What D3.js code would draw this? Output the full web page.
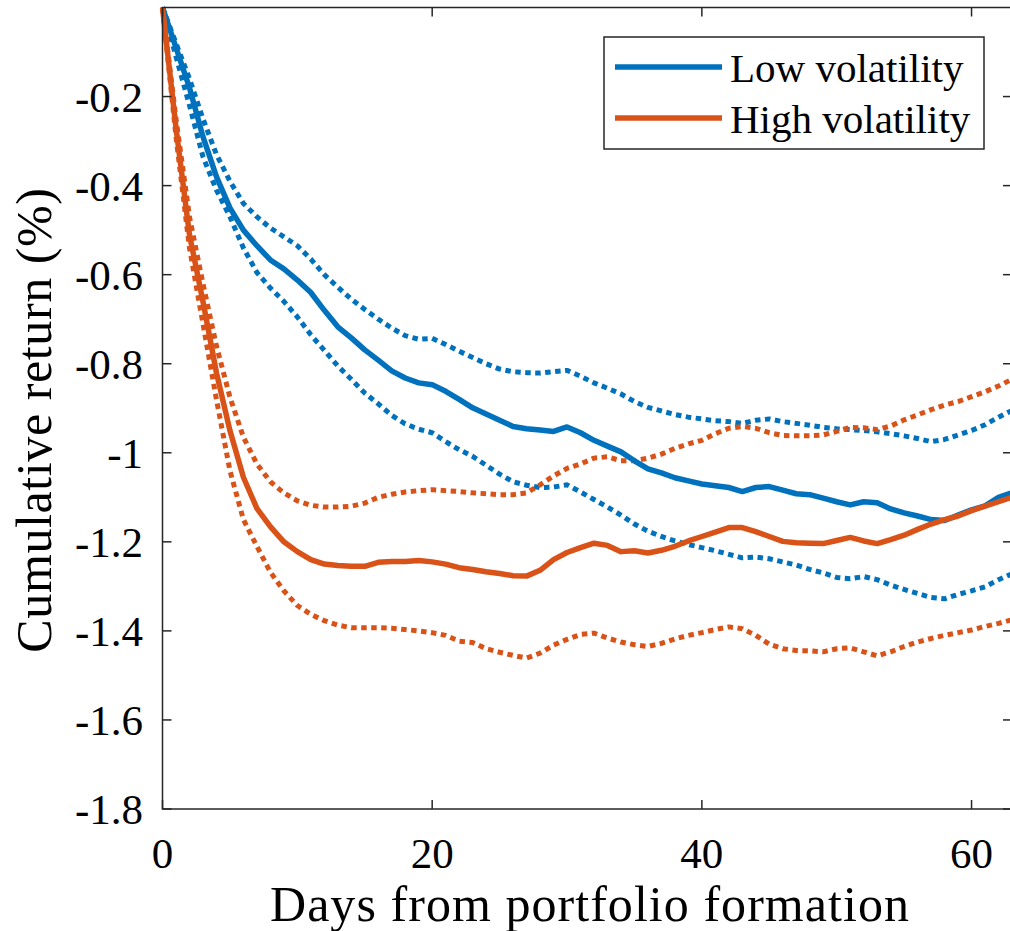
<!DOCTYPE html>
<html>
<head>
<meta charset="utf-8">
<script src="https://cdn.jsdelivr.net/npm/d3@7"></script>
<style>
  html, body { margin: 0; padding: 0; background: #fff; }
  svg { display: block; }
  text { font-family: "Liberation Serif", "Times New Roman", serif; fill: #000; }
</style>
</head>
<body>
<svg id="chart" width="1010" height="931"></svg>
<script>
// Cumulative return (%) by day since portfolio formation, with confidence bands
const days = d3.range(0, 64);

const lowMean = [0, -0.09, -0.18, -0.29, -0.38, -0.45, -0.50, -0.535, -0.567, -0.587,
  -0.612, -0.64, -0.68, -0.717, -0.742, -0.769, -0.792, -0.816, -0.832, -0.843,
  -0.847, -0.862, -0.88, -0.899, -0.913, -0.927, -0.941, -0.946, -0.949, -0.952,
  -0.942, -0.955, -0.972, -0.985, -0.998, -1.018, -1.036, -1.045, -1.056, -1.063,
  -1.07, -1.074, -1.078, -1.087, -1.078, -1.076, -1.084, -1.092, -1.094, -1.102,
  -1.11, -1.117, -1.11, -1.112, -1.126, -1.135, -1.142, -1.15, -1.152, -1.14,
  -1.128, -1.119, -1.1, -1.09];

const lowUpper = [0, -0.08, -0.16, -0.25, -0.33, -0.39, -0.44, -0.47, -0.495, -0.515,
  -0.535, -0.565, -0.60, -0.628, -0.655, -0.678, -0.70, -0.72, -0.737, -0.745,
  -0.743, -0.757, -0.772, -0.786, -0.80, -0.812, -0.818, -0.82, -0.821, -0.818,
  -0.815, -0.828, -0.843, -0.855, -0.868, -0.885, -0.898, -0.906, -0.914, -0.92,
  -0.924, -0.928, -0.93, -0.934, -0.927, -0.924, -0.93, -0.934, -0.938, -0.943,
  -0.946, -0.948, -0.95, -0.953, -0.957, -0.962, -0.968, -0.975, -0.97, -0.96,
  -0.95, -0.937, -0.92, -0.905];

const lowLower = [0, -0.11, -0.22, -0.335, -0.41, -0.47, -0.54, -0.595, -0.63, -0.66,
  -0.695, -0.735, -0.77, -0.805, -0.835, -0.866, -0.89, -0.916, -0.935, -0.947,
  -0.955, -0.975, -0.993, -1.008, -1.028, -1.048, -1.065, -1.073, -1.078, -1.077,
  -1.072, -1.088, -1.105, -1.122, -1.14, -1.16, -1.176, -1.188, -1.198, -1.206,
  -1.213, -1.22, -1.228, -1.236, -1.234, -1.238, -1.245, -1.252, -1.262, -1.27,
  -1.28, -1.283, -1.278, -1.285, -1.297, -1.307, -1.316, -1.325, -1.328, -1.318,
  -1.31, -1.301, -1.285, -1.272];

const highMean = [0, -0.27, -0.51, -0.66, -0.82, -0.95, -1.055, -1.125, -1.166, -1.2,
  -1.222, -1.24, -1.25, -1.253, -1.255, -1.255, -1.246, -1.244, -1.244, -1.242,
  -1.245, -1.25, -1.258, -1.262, -1.267, -1.271, -1.276, -1.277, -1.264, -1.24,
  -1.224, -1.213, -1.203, -1.208, -1.222, -1.22, -1.225, -1.219, -1.21, -1.198,
  -1.188, -1.178, -1.168, -1.168, -1.177, -1.188, -1.199, -1.202, -1.203, -1.204,
  -1.197, -1.19, -1.198, -1.204, -1.195, -1.185, -1.172, -1.16, -1.15, -1.142,
  -1.13, -1.12, -1.11, -1.1];

const highUpper = [0, -0.25, -0.47, -0.62, -0.76, -0.875, -0.965, -1.025, -1.065, -1.09,
  -1.108, -1.118, -1.122, -1.122, -1.12, -1.113, -1.1, -1.093, -1.088, -1.085,
  -1.083, -1.085, -1.087, -1.09, -1.092, -1.094, -1.094, -1.09, -1.072, -1.052,
  -1.035, -1.025, -1.012, -1.009, -1.018, -1.018, -1.012, -1.003, -0.99, -0.98,
  -0.972, -0.957, -0.945, -0.941, -0.945, -0.955, -0.961, -0.962, -0.962, -0.96,
  -0.952, -0.943, -0.944, -0.948, -0.94, -0.926, -0.915, -0.903, -0.893, -0.885,
  -0.874, -0.863, -0.85, -0.835];

const highLower = [0, -0.29, -0.54, -0.71, -0.88, -1.04, -1.15, -1.21, -1.268, -1.31,
  -1.343, -1.363, -1.377, -1.387, -1.393, -1.393, -1.393, -1.394, -1.397, -1.4,
  -1.404, -1.41, -1.423, -1.426, -1.44, -1.448, -1.455, -1.461, -1.45, -1.432,
  -1.419, -1.408, -1.405, -1.416, -1.425, -1.431, -1.435, -1.428, -1.418, -1.41,
  -1.404, -1.397, -1.391, -1.395, -1.41, -1.43, -1.44, -1.444, -1.445, -1.447,
  -1.44, -1.438, -1.447, -1.456, -1.447, -1.435, -1.425, -1.417, -1.41, -1.404,
  -1.398, -1.39, -1.383, -1.375];

const xTicks = [0, 20, 40, 60];
const yTicks = [-1.8, -1.6, -1.4, -1.2, -1, -0.8, -0.6, -0.4, -0.2];
const seriesNames = ["Low volatility", "High volatility"];

const BLUE = "#0072BD", ORANGE = "#D95319", AXIS = "#262626";

const svg = d3.select("#chart");
const plotLeft = 162.5, plotRight = 1012, plotTop = 7.5, plotBottom = 809;

const x = d3.scaleLinear().domain([0, 63]).range([plotLeft, plotRight]);
const y = d3.scaleLinear().domain([-1.8, 0]).range([plotBottom, plotTop]);

// series lines: dotted bands first, solid means on top
const line = d3.line().x((d, i) => x(days[i])).y(d => y(d));
const series = [
  { v: lowUpper, c: BLUE, dotted: true },
  { v: lowLower, c: BLUE, dotted: true },
  { v: highUpper, c: ORANGE, dotted: true },
  { v: highLower, c: ORANGE, dotted: true },
  { v: lowMean, c: BLUE, dotted: false },
  { v: highMean, c: ORANGE, dotted: false }
];
const g = svg.append("g");
series.forEach(s => {
  g.append("path")
    .datum(s.v)
    .attr("d", line)
    .attr("fill", "none")
    .attr("stroke", s.c)
    .attr("stroke-width", s.dotted ? 5 : 5.5)
    .attr("stroke-linejoin", "round")
    .attr("stroke-dasharray", s.dotted ? "5.5,4.5" : null);
});

// axes box with inward ticks
const axes = svg.append("g").attr("stroke", AXIS).attr("stroke-width", 1.5).attr("fill", "none");
axes.append("rect").attr("x", plotLeft).attr("y", plotTop)
  .attr("width", plotRight - plotLeft).attr("height", plotBottom - plotTop);
const tl = 9;
xTicks.forEach(t => {
  axes.append("line").attr("x1", x(t)).attr("x2", x(t)).attr("y1", plotBottom).attr("y2", plotBottom - tl);
  axes.append("line").attr("x1", x(t)).attr("x2", x(t)).attr("y1", plotTop).attr("y2", plotTop + tl);
});
yTicks.forEach(t => {
  axes.append("line").attr("x1", plotLeft).attr("x2", plotLeft + tl).attr("y1", y(t)).attr("y2", y(t));
  axes.append("line").attr("x1", plotRight).attr("x2", plotRight - tl).attr("y1", y(t)).attr("y2", y(t));
});

// tick labels
svg.append("g").selectAll("text").data(xTicks).join("text")
  .attr("x", d => x(d)).attr("y", 868)
  .attr("text-anchor", "middle").attr("font-size", 43)
  .text(d => d);
svg.append("g").selectAll("text").data(yTicks).join("text")
  .attr("x", 143).attr("y", d => y(d) + 15)
  .attr("text-anchor", "end").attr("font-size", 43)
  .text(d => String(d));

// axis titles
svg.append("text")
  .attr("x", 590).attr("y", 921)
  .attr("text-anchor", "middle").attr("font-size", 50)
  .attr("letter-spacing", 1.05)
  .text("Days from portfolio formation");
svg.append("text")
  .attr("transform", "translate(51,420) rotate(-90)")
  .attr("text-anchor", "middle").attr("font-size", 50)
  .attr("letter-spacing", 0.6)
  .text("Cumulative return (%)");

// legend
const lg = svg.append("g");
lg.append("rect").attr("x", 604).attr("y", 37).attr("width", 380).attr("height", 112)
  .attr("fill", "#fff").attr("stroke", AXIS).attr("stroke-width", 1.5);
[BLUE, ORANGE].forEach((c, i) => {
  const ly = 67 + i * 51;
  lg.append("line").attr("x1", 615).attr("x2", 722).attr("y1", ly).attr("y2", ly)
    .attr("stroke", c).attr("stroke-width", 5.5);
  lg.append("text").attr("x", 730).attr("y", ly + 15).attr("font-size", 41).text(seriesNames[i]);
});
</script>
</body>
</html>
